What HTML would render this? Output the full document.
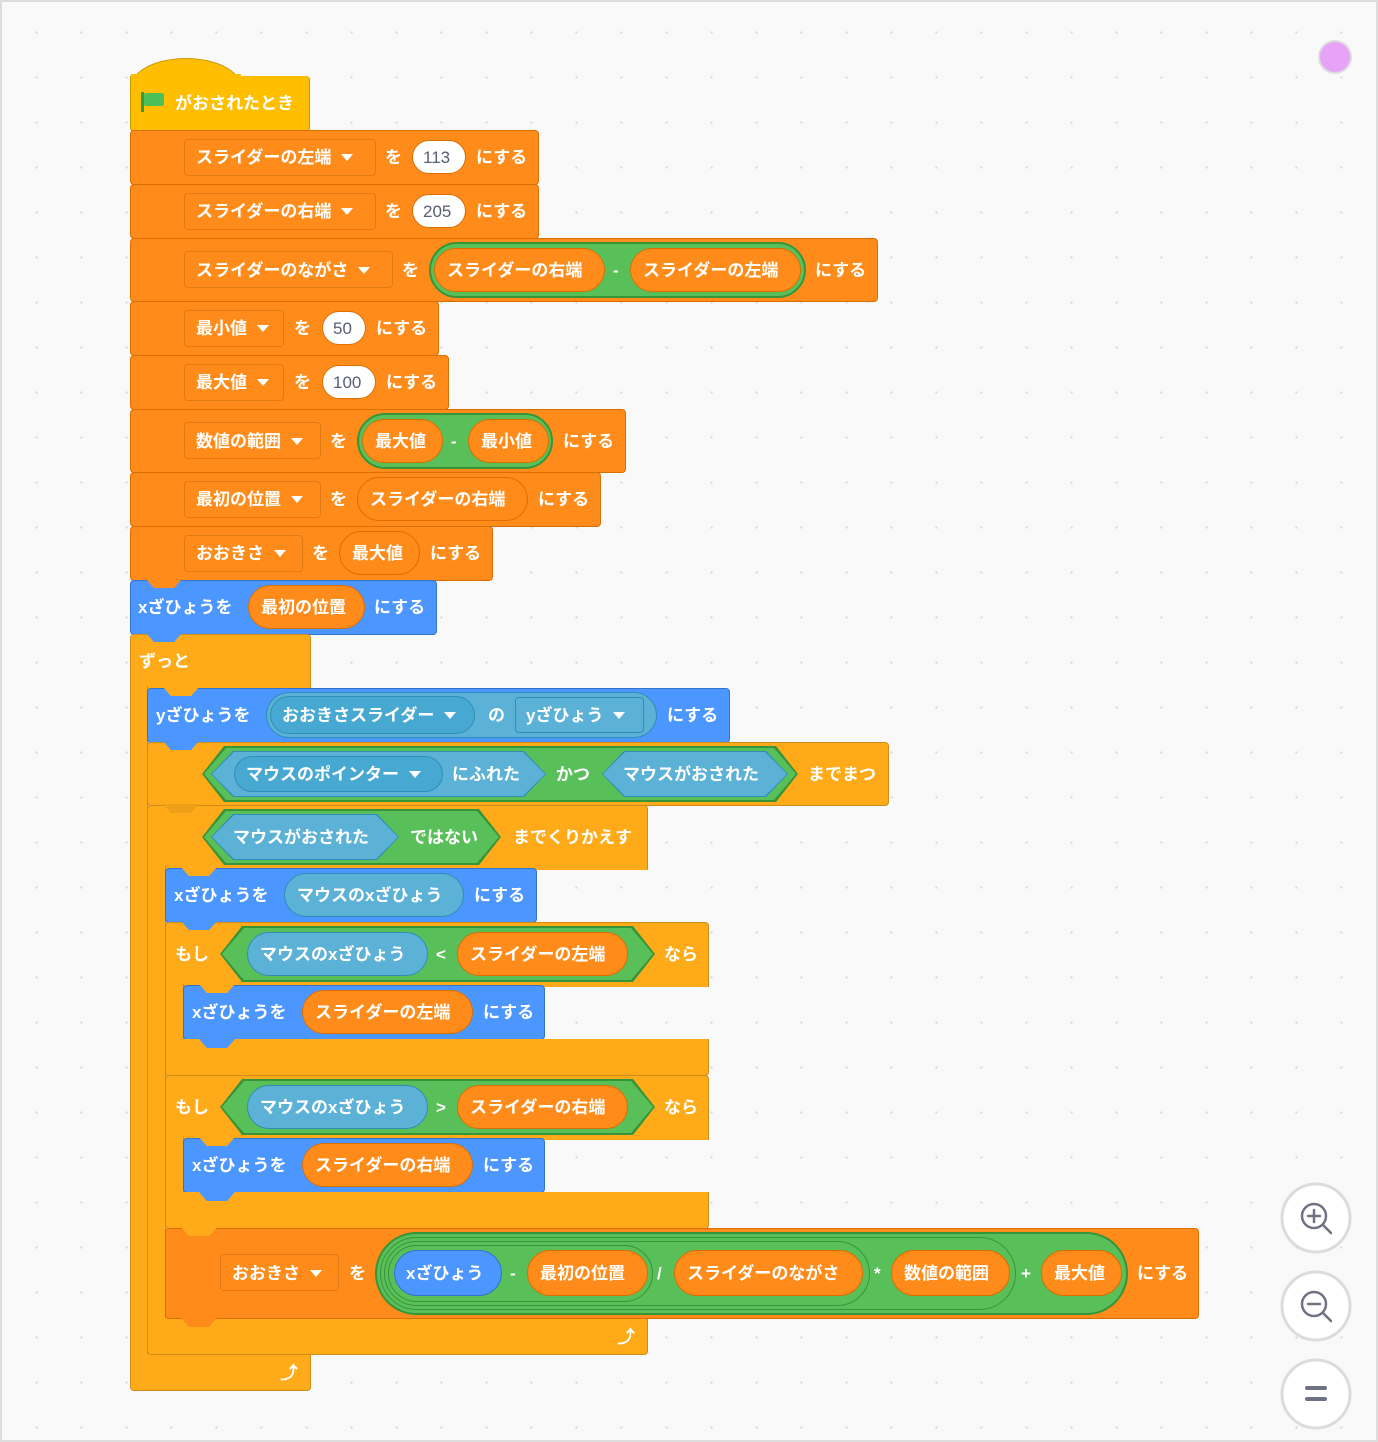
<!DOCTYPE html>
<html><head><meta charset="utf-8"><style>
*{margin:0;padding:0;box-sizing:border-box}
body{width:1378px;height:1442px;background:#f9f9f9;position:relative;overflow:hidden;font-family:"Liberation Sans","Noto Sans CJK JP",sans-serif}
.frame{position:absolute;left:0;top:0;width:1378px;height:1442px;border:2px solid #ddd;background-image:radial-gradient(circle,#d6d6d6 1px,transparent 1.3px);background-size:45px 45px;background-position:12px 8px}
.a{position:absolute}
.o{position:absolute;background:#FF8C1A;border:1px solid #DB6E00;border-radius:4px}
.c{position:absolute;background:#FFAB19;border:1px solid #CF8B17;border-radius:4px}
.m{position:absolute;background:#4C97FF;border:1px solid #3373CC;border-radius:4px}
.dd{position:absolute;border:1px solid #E07A12;border-radius:4px;background:#FF8C1A}
.p{position:absolute;border-radius:999px}
.po{position:absolute;border-radius:999px;background:#FF8C1A;border:1px solid #DB6E00}
.pg{position:absolute;border-radius:999px;background:#59C059;border:2px solid #389438}
.pw{position:absolute;border-radius:999px;background:#fff;border:1px solid #DB6E00}
.ps{position:absolute;border-radius:999px;background:#5CB1D6;border:1px solid #2E8EB8}
.psd{position:absolute;border-radius:999px;background:#47A8D1;border:1px solid #2E8EB8}
.hex{position:absolute;clip-path:polygon(22px 0,calc(100% - 22px) 0,100% 50%,calc(100% - 22px) 100%,22px 100%,0 50%)}
.t{position:absolute;color:#fff;font-weight:bold;font-size:17px;white-space:nowrap;transform:translateY(-50%);line-height:20px;margin-top:1px}
.n{color:#575E75;font-weight:normal}
.tab{position:absolute;width:36px;height:9px;clip-path:polygon(0 0,100% 0,78% 100%,22% 100%)}
.ar{display:inline-block;width:0;height:0;border-left:6px solid transparent;border-right:6px solid transparent;border-top:7px solid #fff;margin-left:10px;vertical-align:middle;position:relative;top:-1px}
</style></head><body>
<div class="frame"></div>
<div class="a" style="left:1318px;top:40px;width:34px;height:34px;border-radius:50%;background:#E6A3F7;border:2px solid #ddd"></div>

<!-- hat -->
<div class="a" style="left:130px;top:58px;width:112px;height:50px;border-radius:56px 56px 0 0/30px 30px 0 0;background:#FFBF00;border:1px solid #CC9900"></div>
<div class="a" style="left:130px;top:76px;width:180px;height:56px;background:#FFBF00;border:1px solid #CC9900;border-top:none;border-radius:0 4px 4px 4px"></div>
<div class="a" style="left:131px;top:74px;width:110px;height:6px;background:#FFBF00"></div>
<div class="a" style="left:141px;top:92px;width:3px;height:20px;background:#3A9A3A"></div>
<div class="a" style="left:144px;top:93px;width:20px;height:13px;background:#4CBF56;border-radius:2px"></div>
<div class="t" style="left:175px;top:103px">がおされたとき</div>
<div class="tab" style="left:146px;top:130px;background:#FFBF00"></div>

<!-- 1 -->
<div class="o" style="left:130px;top:130px;width:409px;height:55px"></div>
<div class="dd" style="left:184px;top:139px;width:192px;height:37px"></div>
<div class="t" style="left:196px;top:157px">スライダーの左端<span class="ar"></span></div>
<div class="t" style="left:385px;top:157px">を</div>
<div class="pw" style="left:412px;top:140px;width:54px;height:34px"></div>
<div class="t n" style="left:423px;top:157px">113</div>
<div class="t" style="left:476px;top:157px">にする</div>
<!-- 2 -->
<div class="o" style="left:130px;top:184px;width:409px;height:55px"></div>
<div class="dd" style="left:184px;top:193px;width:192px;height:37px"></div>
<div class="t" style="left:196px;top:211px">スライダーの右端<span class="ar"></span></div>
<div class="t" style="left:385px;top:211px">を</div>
<div class="pw" style="left:412px;top:194px;width:54px;height:34px"></div>
<div class="t n" style="left:423px;top:211px">205</div>
<div class="t" style="left:476px;top:211px">にする</div>
<!-- 3 -->
<div class="o" style="left:130px;top:238px;width:748px;height:64px"></div>
<div class="dd" style="left:184px;top:251px;width:209px;height:37px"></div>
<div class="t" style="left:196px;top:270px">スライダーのながさ<span class="ar"></span></div>
<div class="t" style="left:402px;top:270px">を</div>
<div class="pg" style="left:429px;top:242px;width:377px;height:56px"></div>
<div class="po" style="left:434px;top:248px;width:171px;height:44px"></div>
<div class="t" style="left:447px;top:270px">スライダーの右端</div>
<div class="t" style="left:613px;top:270px">-</div>
<div class="po" style="left:630px;top:248px;width:171px;height:44px"></div>
<div class="t" style="left:643px;top:270px">スライダーの左端</div>
<div class="t" style="left:815px;top:270px">にする</div>
<!-- 4 -->
<div class="o" style="left:130px;top:301px;width:309px;height:55px"></div>
<div class="dd" style="left:184px;top:310px;width:100px;height:37px"></div>
<div class="t" style="left:196px;top:328px">最小値<span class="ar"></span></div>
<div class="t" style="left:294px;top:328px">を</div>
<div class="pw" style="left:322px;top:311px;width:44px;height:34px"></div>
<div class="t n" style="left:333px;top:328px">50</div>
<div class="t" style="left:376px;top:328px">にする</div>
<!-- 5 -->
<div class="o" style="left:130px;top:355px;width:319px;height:55px"></div>
<div class="dd" style="left:184px;top:364px;width:100px;height:37px"></div>
<div class="t" style="left:196px;top:382px">最大値<span class="ar"></span></div>
<div class="t" style="left:294px;top:382px">を</div>
<div class="pw" style="left:322px;top:365px;width:54px;height:34px"></div>
<div class="t n" style="left:333px;top:382px">100</div>
<div class="t" style="left:386px;top:382px">にする</div>
<!-- 6 -->
<div class="o" style="left:130px;top:409px;width:496px;height:64px"></div>
<div class="dd" style="left:184px;top:422px;width:137px;height:37px"></div>
<div class="t" style="left:196px;top:441px">数値の範囲<span class="ar"></span></div>
<div class="t" style="left:330px;top:441px">を</div>
<div class="pg" style="left:357px;top:413px;width:196px;height:56px"></div>
<div class="po" style="left:362px;top:419px;width:81px;height:44px"></div>
<div class="t" style="left:375px;top:441px">最大値</div>
<div class="t" style="left:451px;top:441px">-</div>
<div class="po" style="left:468px;top:419px;width:81px;height:44px"></div>
<div class="t" style="left:481px;top:441px">最小値</div>
<div class="t" style="left:563px;top:441px">にする</div>
<!-- 7 -->
<div class="o" style="left:130px;top:472px;width:471px;height:55px"></div>
<div class="dd" style="left:184px;top:481px;width:137px;height:37px"></div>
<div class="t" style="left:196px;top:499px">最初の位置<span class="ar"></span></div>
<div class="t" style="left:330px;top:499px">を</div>
<div class="po" style="left:357px;top:477px;width:171px;height:44px"></div>
<div class="t" style="left:370px;top:499px">スライダーの右端</div>
<div class="t" style="left:538px;top:499px">にする</div>
<!-- 8 -->
<div class="o" style="left:130px;top:526px;width:363px;height:55px"></div>
<div class="dd" style="left:184px;top:535px;width:119px;height:37px"></div>
<div class="t" style="left:196px;top:553px">おおきさ<span class="ar"></span></div>
<div class="t" style="left:312px;top:553px">を</div>
<div class="po" style="left:339px;top:531px;width:81px;height:44px"></div>
<div class="t" style="left:352px;top:553px">最大値</div>
<div class="t" style="left:430px;top:553px">にする</div>
<!-- 9 motion -->
<div class="m" style="left:130px;top:580px;width:307px;height:55px"></div>
<div class="tab" style="left:146px;top:579px;background:#FF8C1A"></div>
<div class="t" style="left:138px;top:607px">xざひょうを</div>
<div class="po" style="left:248px;top:585px;width:117px;height:44px"></div>
<div class="t" style="left:261px;top:607px">最初の位置</div>
<div class="t" style="left:374px;top:607px">にする</div>

<!-- forever -->
<div class="c" style="left:130px;top:634px;width:181px;height:56px;border-bottom:none;border-radius:4px 4px 0 0"></div>
<div class="tab" style="left:146px;top:633px;background:#4C97FF"></div>
<div class="t" style="left:139px;top:661px">ずっと</div>
<div class="c" style="left:130px;top:686px;width:18px;height:670px;border-top:none;border-bottom:none;border-radius:0"></div>
<div class="c" style="left:130px;top:1354px;width:181px;height:37px;border-top:none;border-radius:0 0 4px 4px"></div>
<div class="t" style="left:280px;top:1372px;font-size:18px">⤴</div>

<!-- a -->
<div class="m" style="left:147px;top:688px;width:583px;height:55px"></div>
<div class="tab" style="left:163px;top:687px;background:#FFAB19"></div>
<div class="t" style="left:156px;top:715px">yざひょうを</div>
<div class="ps" style="left:266px;top:692px;width:391px;height:46px"></div>
<div class="psd" style="left:270px;top:696px;width:205px;height:38px"></div>
<div class="t" style="left:282px;top:715px">おおきさスライダー<span class="ar"></span></div>
<div class="t" style="left:488px;top:715px">の</div>
<div class="a" style="left:515px;top:697px;width:129px;height:36px;border:1px solid #2E8EB8;border-radius:4px;background:#5CB1D6"></div>
<div class="t" style="left:526px;top:715px">yざひょう<span class="ar"></span></div>
<div class="t" style="left:667px;top:715px">にする</div>
<div class="tab" style="left:163px;top:742px;background:#4C97FF"></div>

<!-- b wait until -->
<div class="c" style="left:147px;top:742px;width:742px;height:64px"></div>
<div class="tab" style="left:163px;top:741px;background:#4C97FF"></div>
<div class="hex" style="left:202px;top:746px;width:596px;height:56px;background:#389438"></div>
<div class="hex" style="left:204px;top:748px;width:592px;height:52px;background:#59C059"></div>
<div class="hex" style="left:211px;top:751px;width:335px;height:46px;background:#2E8EB8"></div>
<div class="hex" style="left:212px;top:752px;width:333px;height:44px;background:#5CB1D6"></div>
<div class="psd" style="left:234px;top:756px;width:209px;height:36px"></div>
<div class="t" style="left:246px;top:774px">マウスのポインター<span class="ar"></span></div>
<div class="t" style="left:452px;top:774px">にふれた</div>
<div class="t" style="left:556px;top:774px">かつ</div>
<div class="hex" style="left:602px;top:751px;width:186px;height:46px;background:#2E8EB8"></div>
<div class="hex" style="left:603px;top:752px;width:184px;height:44px;background:#5CB1D6"></div>
<div class="t" style="left:623px;top:774px">マウスがおされた</div>
<div class="t" style="left:808px;top:774px">までまつ</div>

<!-- c repeat until -->
<div class="c" style="left:147px;top:805px;width:501px;height:65px;border-bottom:none;border-radius:4px 4px 0 0"></div>
<div class="tab" style="left:163px;top:804px;background:#FFAB19;filter:brightness(.93)"></div>
<div class="hex" style="left:202px;top:809px;width:299px;height:56px;background:#389438"></div>
<div class="hex" style="left:204px;top:811px;width:295px;height:52px;background:#59C059"></div>
<div class="hex" style="left:211px;top:814px;width:188px;height:46px;background:#2E8EB8"></div>
<div class="hex" style="left:212px;top:815px;width:186px;height:44px;background:#5CB1D6"></div>
<div class="t" style="left:233px;top:837px">マウスがおされた</div>
<div class="t" style="left:410px;top:837px">ではない</div>
<div class="t" style="left:513px;top:837px">までくりかえす</div>
<div class="c" style="left:147px;top:866px;width:19px;height:454px;border-top:none;border-bottom:none;border-radius:0"></div>
<div class="c" style="left:147px;top:1318px;width:501px;height:37px;border-top:none;border-radius:0 0 4px 4px"></div>
<div class="t" style="left:617px;top:1336px;font-size:18px">⤴</div>

<!-- i -->
<div class="m" style="left:165px;top:868px;width:372px;height:55px"></div>
<div class="tab" style="left:181px;top:867px;background:#FFAB19"></div>
<div class="t" style="left:174px;top:895px">xざひょうを</div>
<div class="ps" style="left:284px;top:873px;width:180px;height:44px"></div>
<div class="t" style="left:297px;top:895px">マウスのxざひょう</div>
<div class="t" style="left:474px;top:895px">にする</div>

<!-- ii if -->
<div class="c" style="left:165px;top:922px;width:544px;height:65px;border-bottom:none;border-radius:4px 4px 0 0"></div>
<div class="tab" style="left:181px;top:921px;background:#4C97FF"></div>
<div class="t" style="left:175px;top:954px">もし</div>
<div class="hex" style="left:220px;top:926px;width:435px;height:56px;background:#389438"></div>
<div class="hex" style="left:222px;top:928px;width:431px;height:52px;background:#59C059"></div>
<div class="ps" style="left:247px;top:932px;width:181px;height:44px"></div>
<div class="t" style="left:260px;top:954px">マウスのxざひょう</div>
<div class="t" style="left:436px;top:954px">&lt;</div>
<div class="po" style="left:457px;top:932px;width:171px;height:44px"></div>
<div class="t" style="left:470px;top:954px">スライダーの左端</div>
<div class="t" style="left:664px;top:954px">なら</div>
<div class="c" style="left:165px;top:984px;width:19px;height:57px;border-top:none;border-bottom:none;border-radius:0"></div>
<div class="m" style="left:183px;top:985px;width:362px;height:55px"></div>
<div class="tab" style="left:199px;top:984px;background:#FFAB19"></div>
<div class="t" style="left:192px;top:1012px">xざひょうを</div>
<div class="po" style="left:302px;top:990px;width:171px;height:44px"></div>
<div class="t" style="left:315px;top:1012px">スライダーの左端</div>
<div class="t" style="left:483px;top:1012px">にする</div>
<div class="c" style="left:165px;top:1039px;width:544px;height:37px;border-top:none;border-radius:0 0 4px 4px"></div>
<div class="tab" style="left:199px;top:1039px;background:#4C97FF"></div>

<!-- iii if -->
<div class="c" style="left:165px;top:1075px;width:544px;height:65px;border-bottom:none;border-radius:4px 4px 0 0"></div>
<div class="t" style="left:175px;top:1107px">もし</div>
<div class="hex" style="left:220px;top:1079px;width:435px;height:56px;background:#389438"></div>
<div class="hex" style="left:222px;top:1081px;width:431px;height:52px;background:#59C059"></div>
<div class="ps" style="left:247px;top:1085px;width:181px;height:44px"></div>
<div class="t" style="left:260px;top:1107px">マウスのxざひょう</div>
<div class="t" style="left:436px;top:1107px">&gt;</div>
<div class="po" style="left:457px;top:1085px;width:171px;height:44px"></div>
<div class="t" style="left:470px;top:1107px">スライダーの右端</div>
<div class="t" style="left:664px;top:1107px">なら</div>
<div class="c" style="left:165px;top:1137px;width:19px;height:57px;border-top:none;border-bottom:none;border-radius:0"></div>
<div class="m" style="left:183px;top:1138px;width:362px;height:55px"></div>
<div class="tab" style="left:199px;top:1137px;background:#FFAB19"></div>
<div class="t" style="left:192px;top:1165px">xざひょうを</div>
<div class="po" style="left:302px;top:1143px;width:171px;height:44px"></div>
<div class="t" style="left:315px;top:1165px">スライダーの右端</div>
<div class="t" style="left:483px;top:1165px">にする</div>
<div class="c" style="left:165px;top:1192px;width:544px;height:37px;border-top:none;border-radius:0 0 4px 4px"></div>
<div class="tab" style="left:199px;top:1192px;background:#4C97FF"></div>

<!-- iv -->
<div class="o" style="left:165px;top:1228px;width:1034px;height:91px"></div>
<div class="tab" style="left:181px;top:1227px;background:#FFAB19"></div>
<div class="dd" style="left:220px;top:1254px;width:119px;height:37px"></div>
<div class="t" style="left:232px;top:1273px">おおきさ<span class="ar"></span></div>
<div class="t" style="left:349px;top:1273px">を</div>
<div class="pg" style="left:375px;top:1232px;width:753px;height:83px"></div>
<div class="pg" style="left:380px;top:1237px;width:636px;height:73px;border-width:1px"></div>
<div class="pg" style="left:384px;top:1241px;width:486px;height:65px;border-width:1px"></div>
<div class="pg" style="left:388px;top:1245px;width:265px;height:57px;border-width:1px"></div>
<div class="p" style="left:394px;top:1250px;width:108px;height:46px;background:#4C97FF;border:1px solid #3373CC"></div>
<div class="t" style="left:406px;top:1273px">xざひょう</div>
<div class="t" style="left:510px;top:1273px">-</div>
<div class="po" style="left:527px;top:1250px;width:121px;height:46px"></div>
<div class="t" style="left:540px;top:1273px">最初の位置</div>
<div class="t" style="left:657px;top:1273px">/</div>
<div class="po" style="left:674px;top:1250px;width:189px;height:46px"></div>
<div class="t" style="left:687px;top:1273px">スライダーのながさ</div>
<div class="t" style="left:874px;top:1273px">*</div>
<div class="po" style="left:891px;top:1250px;width:119px;height:46px"></div>
<div class="t" style="left:904px;top:1273px">数値の範囲</div>
<div class="t" style="left:1021px;top:1273px">+</div>
<div class="po" style="left:1041px;top:1250px;width:81px;height:46px"></div>
<div class="t" style="left:1054px;top:1273px">最大値</div>
<div class="t" style="left:1137px;top:1273px">にする</div>
<div class="tab" style="left:181px;top:1318px;background:#FF8C1A"></div>

<!-- zoom buttons -->
<svg class="a" style="left:1278px;top:1180px" width="80" height="255" viewBox="0 0 80 255">
<g fill="#fff" stroke="#dcdcdc" stroke-width="3">
<circle cx="38" cy="38" r="34"/><circle cx="38" cy="126" r="34"/><circle cx="38" cy="214" r="34"/></g>
<g fill="none" stroke="#6f7280" stroke-width="2.5" stroke-linecap="round">
<circle cx="36" cy="36" r="12"/><line x1="45" y1="45" x2="53" y2="53"/><line x1="30" y1="36" x2="42" y2="36"/><line x1="36" y1="30" x2="36" y2="42"/>
<circle cx="36" cy="124" r="12"/><line x1="45" y1="133" x2="53" y2="141"/><line x1="30" y1="124" x2="42" y2="124"/>
</g>
<g stroke="#6f7280" stroke-width="4" stroke-linecap="round"><line x1="29" y1="208" x2="47" y2="208"/><line x1="29" y1="219" x2="47" y2="219"/></g>
</svg>
</body></html>
